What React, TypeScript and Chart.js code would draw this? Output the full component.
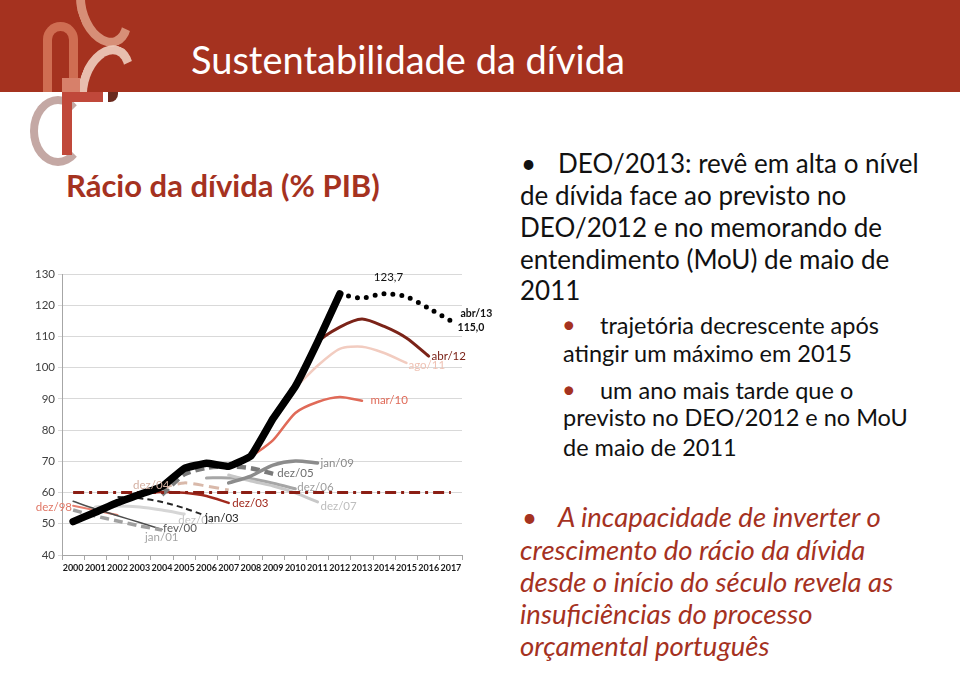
import React, { useEffect, useRef } from "react";
import { Chart, registerables } from "chart.js";

Chart.register(...registerables);

// ---------- data ----------
const years = ["2000", "2001", "2002", "2003", "2004", "2005", "2006", "2007", "2008", "2009", "2010", "2011", "2012", "2013", "2014", "2015", "2016", "2017"];

const actual = [50.7, 53.7, 56.8, 59.4, 61.9, 67.7, 69.4, 68.4, 71.7, 83.7, 94.0, 108.2, 123.6, null, null, null, null, null];
const deo2013 = [null, null, null, null, null, null, null, null, null, null, null, null, 123.6, 122.3, 123.7, 122.7, 119.0, 115.0];
const abr12 = [null, null, null, null, null, null, null, null, null, null, 93.3, 108.0, 113.0, 115.6, 113.2, 109.5, 103.7, null];
const ago11 = [null, null, null, null, null, null, null, null, null, null, 93.6, 100.6, 106.0, 106.7, 104.7, 101.5, null, null];
const mar10 = [null, null, null, null, null, null, null, null, 71.4, 76.8, 85.5, 89.0, 90.6, 89.4, null, null, null, null];
const limit60 = [60, 60, 60, 60, 60, 60, 60, 60, 60, 60, 60, 60, 60, 60, 60, 60, 60, 60];
const jan09 = [null, null, null, null, null, null, null, 63.1, 65.3, 68.8, 70.1, 69.5, null, null, null, null, null, null];
const dez05 = [null, null, null, null, 59.3, 65.8, 67.9, 68.4, 67.8, 66.0, null, null, null, null, null, null, null, null];
const dez07 = [null, null, null, null, null, null, null, 65.6, 63.7, 62.1, 59.9, 57.0, null, null, null, null, null, null];
const dez06 = [null, null, null, null, null, null, 64.7, 64.7, 64.4, 63.0, 61.2, null, null, null, null, null, null, null];
const dez04 = [null, null, null, null, 61.5, 63.1, 62.1, 60.8, null, null, null, null, null, null, null, null, null, null];
const dez03 = [null, null, null, 59.9, 60.2, 59.9, 58.9, 56.7, null, null, null, null, null, null, null, null, null, null];
const jan03 = [null, null, 58.6, 58.2, 57.0, 55.0, 52.5, null, null, null, null, null, null, null, null, null, null, null];
const dez01 = [null, 55.4, 55.7, 55.4, 54.4, 53.1, null, null, null, null, null, null, null, null, null, null, null, null];
const jan01 = [54.4, 52.5, 50.9, 49.3, 48.0, null, null, null, null, null, null, null, null, null, null, null, null, null];
const fev00 = [57.2, 54.8, 52.6, 50.4, 48.2, null, null, null, null, null, null, null, null, null, null, null, null, null];
const dez98 = [55.8, 54.3, 52.8, null, null, null, null, null, null, null, null, null, null, null, null, null, null, null];

// series labels: text, anchor year index, anchor value
const annText = ["dez/98", "jan/01", "fev/00", "dez/01", "jan/03", "dez/03", "dez/04", "dez/05", "dez/06", "dez/07", "jan/09", "mar/10", "ago/11", "abr/12", "123,7", "abr/13", "115,0"];
const annYear = [-0.05, 3.24, 4.05, 4.73, 5.95, 7.16, 2.7, 9.19, 10.09, 11.13, 11.13, 13.38, 15.09, 16.13, 14.19, 17.43, 17.3];
const annValue = [55.4, 45.8, 48.7, 51.2, 51.9, 56.7, 62.4, 66.3, 61.8, 55.7, 69.5, 89.4, 100.6, 103.8, 129.1, 117.2, 112.8];

// ---------- styles ----------
const annColor = ["#E07766", "#A3A3A3", "#5A5A5A", "#C4C4C4", "#262626", "#A0281C", "#D4B0A2", "#6E6E6E", "#9E9E9E", "#BDBDBD", "#8A8A8A", "#E06A58", "#EFC2B4", "#7B2318", "#111111", "#111111", "#111111"];
const annAlign: CanvasTextAlign[] = ["right", "left", "left", "left", "left", "left", "left", "left", "left", "left", "left", "left", "left", "left", "center", "left", "left"];
const annBold = [false, false, false, false, false, false, false, false, false, false, false, false, false, false, false, true, true];

const FONT = "Lato, 'Open Sans', sans-serif";

const labelPlugin = {
  id: "seriesLabels",
  afterDatasetsDraw(chart: any) {
    const { ctx } = chart;
    const x = chart.scales.x;
    const y = chart.scales.y;
    ctx.save();
    ctx.textBaseline = "middle";
    annText.forEach((t, i) => {
      ctx.font = `${annBold[i] ? "bold " : ""}${annBold[i] ? 10.5 : 11.5}px ${FONT}`;
      ctx.fillStyle = annColor[i];
      ctx.textAlign = annAlign[i];
      ctx.fillText(t, x.getPixelForValue(annYear[i]), y.getPixelForValue(annValue[i]));
    });
    ctx.restore();
  },
};

function line(data: (number | null)[], color: string, width: number, dash: number[] = [], tension = 0.25, cap: CanvasLineCap = "round") {
  return {
    data,
    borderColor: color,
    backgroundColor: color,
    borderWidth: width,
    borderDash: dash,
    borderCapStyle: cap,
    borderJoinStyle: "round" as CanvasLineJoin,
    pointRadius: 0,
    pointHoverRadius: 0,
    tension,
    spanGaps: false,
    fill: false,
  };
}

function DebtChart() {
  const ref = useRef<HTMLCanvasElement | null>(null);
  useEffect(() => {
    if (!ref.current) return;
    const chart = new Chart(ref.current, {
      type: "line",
      data: {
        labels: years,
        datasets: [
          line(actual, "#000000", 7.5, [], 0.1),
          line(deo2013, "#000000", 5, [0, 9], 0.25),
          line(abr12, "#7B2318", 3),
          line(ago11, "#F2CCC0", 2.5),
          line(mar10, "#E06A58", 2.5),
          line(limit60, "#8B1E14", 3, [11, 5, 3, 5], 0, "butt"),
          line(jan09, "#8C8C8C", 3.5),
          line(dez05, "#7A7A7A", 4.5, [9, 5], 0.25, "butt"),
          line(dez07, "#C8C8C8", 3),
          line(dez06, "#A6A6A6", 3),
          line(dez04, "#D9B9AA", 3, [10, 6], 0.25, "butt"),
          line(dez03, "#A0281C", 2.5),
          line(jan03, "#262626", 2, [6, 4], 0.25, "butt"),
          line(dez01, "#D6D6D6", 3),
          line(jan01, "#A0A0A0", 3.5, [9, 5], 0.25, "butt"),
          line(fev00, "#4D4D4D", 1.5),
          line(dez98, "#E8806F", 2),
        ],
      },
      options: {
        responsive: false,
        animation: false,
        events: [],
        layout: { padding: { left: 0, top: 24, right: 58, bottom: 0 } },
        plugins: { legend: { display: false }, tooltip: { enabled: false }, title: { display: false } },
        scales: {
          x: {
            type: "category",
            offset: true,
            afterFit: (s: any) => { s.height = 35; },
            grid: { display: true, drawOnChartArea: false, drawTicks: true, tickLength: 5, color: "#A6A6A6", offset: true },
            border: { display: true, color: "#A6A6A6", width: 1 },
            ticks: { autoSkip: false, maxRotation: 0, minRotation: 0, padding: 3, color: "#1A1A1A", font: { family: FONT, size: 9, weight: "bold" } },
          },
          y: {
            min: 40,
            max: 130,
            afterFit: (s: any) => { s.width = 62; },
            grid: { color: "#D9D9D9", lineWidth: 1, drawTicks: true, tickLength: 4 },
            border: { display: true, color: "#A6A6A6", width: 1 },
            ticks: { stepSize: 10, padding: 3, color: "#404040", font: { family: FONT, size: 11.5 } },
          },
        },
      },
      plugins: [labelPlugin],
    } as any);
    return () => chart.destroy();
  }, []);
  return <canvas ref={ref} width={520} height={340} style={{ width: 520, height: 340, display: "block" }} />;
}

type TL = { t: string; left: number; base: number; size: number; color: string; italic?: boolean; bold?: boolean };
function TextLine({ t, left, base, size, color, italic, bold }: TL) {
  return (
    <div
      style={{
        position: "absolute",
        left,
        top: base - 0.887 * size,
        fontSize: size,
        lineHeight: `${size}px`,
        fontFamily: FONT,
        fontStyle: italic ? "italic" : "normal",
        fontWeight: bold ? "bold" : "normal",
        color,
        whiteSpace: "nowrap",
      }}
    >
      {t}
    </div>
  );
}

const RED = "#A5321F";

export default function App() {
  const mainLines: TL[] = [
    { t: "•", left: 521, base: 173, size: 26, color: "#111" },
    { t: "DEO/2013: revê em alta o nível", left: 558, base: 173, size: 26, color: "#111" },
    { t: "de dívida face ao previsto no", left: 520, base: 205, size: 26, color: "#111" },
    { t: "DEO/2012 e no memorando de", left: 520, base: 237, size: 26, color: "#111" },
    { t: "entendimento (MoU) de maio de", left: 520, base: 269, size: 26, color: "#111" },
    { t: "2011", left: 520, base: 300, size: 26, color: "#111" },
    { t: "•", left: 562, base: 334, size: 23.5, color: RED },
    { t: "trajetória decrescente após", left: 600, base: 335, size: 23.5, color: "#111" },
    { t: "atingir um máximo em 2015", left: 563, base: 363, size: 23.5, color: "#111" },
    { t: "•", left: 562, base: 399, size: 23.5, color: RED },
    { t: "um ano mais tarde que o", left: 600, base: 400, size: 23.5, color: "#111" },
    { t: "previsto no DEO/2012 e no MoU", left: 563, base: 427, size: 23.5, color: "#111" },
    { t: "de maio de 2011", left: 563, base: 457, size: 23.5, color: "#111" },
    { t: "•", left: 522, base: 527, size: 26, color: RED },
    { t: "A incapacidade de inverter o", left: 558, base: 527, size: 27.5, color: RED, italic: true },
    { t: "crescimento do rácio da dívida", left: 520, base: 560, size: 27.5, color: RED, italic: true },
    { t: "desde o início do século revela as", left: 520, base: 592, size: 27.5, color: RED, italic: true },
    { t: "insuficiências do processo", left: 520, base: 624, size: 27.5, color: RED, italic: true },
    { t: "orçamental português", left: 520, base: 656, size: 27.5, color: RED, italic: true },
  ];
  return (
    <div style={{ position: "absolute", left: 0, top: 0, width: 960, height: 681, background: "#fff", overflow: "hidden", fontFamily: FONT }}>
      {/* header band */}
      <div style={{ position: "absolute", left: 0, top: 0, width: 960, height: 92, background: RED, overflow: "hidden" }}>
        <div style={{ position: "absolute", left: 43, top: 22, width: 17, height: 90, border: "9px solid rgba(222,130,100,0.75)", borderBottom: "none", borderRadius: "18px 18px 0 0" }} />
        <div style={{ position: "absolute", left: 78, top: -30, width: 34, height: 60, border: "9px solid transparent", borderLeftColor: "rgba(232,175,150,0.75)", borderBottomColor: "rgba(232,175,150,0.75)", borderRadius: "50%", transform: "rotate(-20deg)" }} />
        <div style={{ position: "absolute", left: 80, top: 44, width: 34, height: 60, border: "9px solid transparent", borderLeftColor: "rgba(244,215,200,0.85)", borderTopColor: "rgba(244,215,200,0.85)", borderRadius: "50%", transform: "rotate(20deg)" }} />
        <div style={{ position: "absolute", left: 62, top: 78, width: 18, height: 14, background: "#D7806A" }} />
        <TextLine t="Sustentabilidade da dívida" left={191} base={74} size={38} color="#FFFFFF" />
      </div>
      {/* logo below band */}
      <div style={{ position: "absolute", left: 30, top: 96, width: 40, height: 54, border: "8px solid #C4A8A4", borderRightColor: "transparent", borderRadius: "50%" }} />
      <div style={{ position: "absolute", left: 62, top: 92, width: 41, height: 10, background: "#C0483A" }} />
      <div style={{ position: "absolute", left: 62, top: 92, width: 10, height: 63, background: "#C0483A" }} />
      <div style={{ position: "absolute", left: 108, top: 92, width: 10, height: 10, background: "#6B2A1E", borderRadius: "0 0 8px 0" }} />

      {/* chart subtitle */}
      <TextLine t="Rácio da dívida (% PIB)" left={66} base={197} size={31} color={RED} bold />

      <div style={{ position: "absolute", left: 0, top: 250, width: 520, height: 340 }}>
        <DebtChart />
      </div>

      {mainLines.map((l, i) => (
        <TextLine key={i} {...l} />
      ))}
    </div>
  );
}
